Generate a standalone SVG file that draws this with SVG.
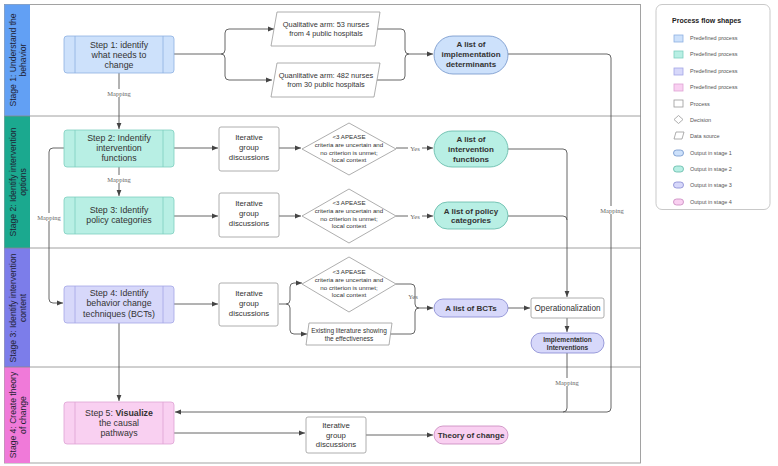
<svg xmlns="http://www.w3.org/2000/svg" width="778" height="466" viewBox="0 0 778 466">
<defs>
<marker id="ah" viewBox="0 0 6 6" refX="6" refY="3" markerWidth="6" markerHeight="6" markerUnits="userSpaceOnUse" orient="auto">
<path d="M0,0.6 L6,3 L0,5.4 z" fill="#444"/>
</marker>
<style>
text{font-family:"Liberation Sans",Arial,sans-serif;fill:#333;text-anchor:middle}
.hd{font-size:8.6px;fill:#1f2233}
.st{font-size:8.8px}
.it{font-size:7.8px}
.pa{font-size:7.4px}
.dt{font-size:6.2px}
.ot{font-size:8px;font-weight:bold}
.mp{font-family:"Liberation Serif",serif;font-size:6.5px;fill:#666}
.lg{font-size:5.5px;text-anchor:start;fill:#555}
.lt{font-size:7px;font-weight:bold;text-anchor:start;fill:#222}
.proc{fill:#fff;stroke:#999;stroke-width:0.8}
.edge{fill:none;stroke:#555;stroke-width:0.9}
.div{stroke:#888;stroke-width:0.8}
.s1{fill:#cde1fb;stroke:#8db0e2;stroke-width:0.8}
.s2{fill:#b8efe4;stroke:#7dcfbf;stroke-width:0.8}
.s3{fill:#d7d8fa;stroke:#a3a6e6;stroke-width:0.8}
.s4{fill:#f9d0f1;stroke:#dea2d4;stroke-width:0.8}
.o1{fill:#cde1fb;stroke:#6f92c9;stroke-width:0.8}
.o2{fill:#b8efe4;stroke:#5fb7a6;stroke-width:0.8}
.o3{fill:#d7d8fa;stroke:#8486d0;stroke-width:0.8}
.o4{fill:#f9d0f1;stroke:#c886bd;stroke-width:0.8}
.inl{stroke-width:0.8}
</style>
</defs>
<rect width="778" height="466" fill="#fff"/>

<!-- frame and swimlanes -->
<g id="lanes">
<rect x="4.5" y="4.5" width="636" height="458.5" fill="#fff" stroke="#999" stroke-width="0.9"/>
<rect x="4.5" y="4.5" width="25.5" height="111.5" fill="#62a0f4"/>
<rect x="4.5" y="116" width="25.5" height="132" fill="#1ba98f"/>
<rect x="4.5" y="248" width="25.5" height="119" fill="#7c7dea"/>
<rect x="4.5" y="367" width="25.5" height="96" fill="#f07ad9"/>
<line class="div" x1="4.5" y1="116" x2="640.5" y2="116"/>
<line class="div" x1="4.5" y1="248" x2="640.5" y2="248"/>
<line class="div" x1="4.5" y1="367" x2="640.5" y2="367"/>
<text class="hd" transform="translate(17,60) rotate(-90)"><tspan x="0" y="-1">Stage 1: Understand the</tspan><tspan x="0" y="8.5">behavior</tspan></text>
<text class="hd" transform="translate(17,182) rotate(-90)"><tspan x="0" y="-1">Stage 2: Identify intervention</tspan><tspan x="0" y="8.5">options</tspan></text>
<text class="hd" transform="translate(17,308) rotate(-90)"><tspan x="0" y="-1">Stage 3: Identify intervention</tspan><tspan x="0" y="8.5">content</tspan></text>
<text class="hd" transform="translate(17,415) rotate(-90)"><tspan x="0" y="-1">Stage 4: Create theory</tspan><tspan x="0" y="8.5">of change</tspan></text>
</g>

<!-- connectors -->
<g id="connectors">
<path class="edge" d="M174,54 H221 Q225,54 225,50 V33 Q225,29 229,29 H274" marker-end="url(#ah)"/>
<path class="edge" d="M221,54 Q225,54 225,58 V76 Q225,80 229,80 H272" marker-end="url(#ah)"/>
<path class="edge" d="M377,29 H401 Q405,29 405,33 V50 Q405,54 409,54 H433" marker-end="url(#ah)"/>
<path class="edge" d="M373,80 H401 Q405,80 405,76 V58 Q405,54 409,54"/>
<path class="edge" d="M508,54 H607 Q611,54 611,58 V408 Q611,412 607,412 H175" marker-end="url(#ah)"/>
<path class="edge" d="M567,353 V408 Q567,412 563,412"/>
<path class="edge" d="M119,73 V129" marker-end="url(#ah)"/>
<path class="edge" d="M119,167 V196" marker-end="url(#ah)"/>
<path class="edge" d="M64,148 H53 Q49,148 49,152 V299 Q49,303 53,303 H63" marker-end="url(#ah)"/>
<path class="edge" d="M174,148 H218" marker-end="url(#ah)"/>
<path class="edge" d="M279,148 H301" marker-end="url(#ah)"/>
<path class="edge" d="M396,148 H433" marker-end="url(#ah)"/>
<path class="edge" d="M508,149 H563 Q567,149 567,153 V297" marker-end="url(#ah)"/>
<path class="edge" d="M508,216 H563 Q567,216 567,220"/>
<path class="edge" d="M174,216 H218" marker-end="url(#ah)"/>
<path class="edge" d="M279,216 H301" marker-end="url(#ah)"/>
<path class="edge" d="M396,216 H433" marker-end="url(#ah)"/>
<path class="edge" d="M174,304 H218" marker-end="url(#ah)"/>
<path class="edge" d="M279,304 H286 Q290,304 290,300 V287 Q290,283 294,283 H302" marker-end="url(#ah)"/>
<path class="edge" d="M286,304 Q290,304 290,308 V330 Q290,334 294,334 H307" marker-end="url(#ah)"/>
<path class="edge" d="M396,284 H411 Q415,284 415,288 V304 Q415,308 419,308 H433" marker-end="url(#ah)"/>
<path class="edge" d="M390,334 H411 Q415,334 415,330 V312 Q415,308 419,308"/>
<path class="edge" d="M508,308 H530" marker-end="url(#ah)"/>
<path class="edge" d="M567,318 V332" marker-end="url(#ah)"/>
<path class="edge" d="M119,323 V401" marker-end="url(#ah)"/>
<path class="edge" d="M174,433 H305" marker-end="url(#ah)"/>
<path class="edge" d="M366,435 H433" marker-end="url(#ah)"/>
<rect x="106" y="89" width="26" height="8" fill="#fff"/>
<text class="mp" x="119" y="96">Mapping</text>
<rect x="106" y="175" width="26" height="8" fill="#fff"/>
<text class="mp" x="119" y="182">Mapping</text>
<rect x="36" y="213" width="26" height="8" fill="#fff"/>
<text class="mp" x="49" y="220">Mapping</text>
<rect x="599" y="206" width="26" height="8" fill="#fff"/>
<text class="mp" x="612" y="213">Mapping</text>
<rect x="554" y="378" width="26" height="8" fill="#fff"/>
<text class="mp" x="567" y="385">Mapping</text>
<rect x="408" y="144" width="14" height="8" fill="#fff"/>
<text class="mp" x="415" y="151">Yes</text>
<rect x="408" y="212" width="14" height="8" fill="#fff"/>
<text class="mp" x="415" y="219">Yes</text>
<text class="mp" x="413" y="299">Yes</text>
</g>

<!-- Stage 1 -->
<g id="step1">
<rect class="s1" x="64" y="36" width="110" height="37" rx="3"/>
<line class="s1 inl" x1="75" y1="36" x2="75" y2="73"/><line class="s1 inl" x1="163" y1="36" x2="163" y2="73"/>
<text class="st" x="119"><tspan x="119" y="48">Step 1: identify</tspan><tspan x="119" y="58">what needs to</tspan><tspan x="119" y="68">change</tspan></text>
</g>
<g id="qual">
<polygon class="proc" points="277,12 380,12 375,46 271,46"/>
<text class="pa"><tspan x="326" y="27">Qualitative arm: 53 nurses</tspan><tspan x="326" y="36">from 4 public hospitals</tspan></text>
</g>
<g id="quant">
<polygon class="proc" points="277,63 380,63 374,97 271,97"/>
<text class="pa"><tspan x="326" y="78">Quanlitative arm: 482 nurses</tspan><tspan x="326" y="87">from 30 public hospitals</tspan></text>
</g>
<g id="out1">
<rect class="o1" x="434" y="36" width="74" height="38" rx="19"/>
<text class="ot"><tspan x="471" y="47">A list of</tspan><tspan x="471" y="57">implementation</tspan><tspan x="471" y="67">determinants</tspan></text>
</g>

<!-- Stage 2 -->
<g id="step2">
<rect class="s2" x="64" y="130" width="110" height="37" rx="3"/>
<line class="s2 inl" x1="75" y1="130" x2="75" y2="167"/><line class="s2 inl" x1="163" y1="130" x2="163" y2="167"/>
<text class="st"><tspan x="119" y="141">Step 2: Indentify</tspan><tspan x="119" y="151">intervention</tspan><tspan x="119" y="161">functions</tspan></text>
</g>
<g id="iter2">
<rect class="proc" x="219" y="127" width="60" height="44" rx="2"/>
<text class="it"><tspan x="249" y="140">Iterative</tspan><tspan x="249" y="150">group</tspan><tspan x="249" y="160">discussions</tspan></text>
</g>
<g id="dec2">
<polygon class="proc" points="349,123 396,149 349,175 302,149"/>
<text class="dt"><tspan x="349" y="139">&lt;3 APEASE</tspan><tspan x="349" y="147">criteria are uncertain and</tspan><tspan x="349" y="155">no criterion is unmet;</tspan><tspan x="349" y="162">local context</tspan></text>
</g>
<g id="out2a">
<rect class="o2" x="434" y="131" width="74" height="36" rx="18"/>
<text class="ot"><tspan x="471" y="142">A list of</tspan><tspan x="471" y="152">intervention</tspan><tspan x="471" y="162">functions</tspan></text>
</g>
<g id="step3">
<rect class="s2" x="64" y="197" width="110" height="37" rx="3"/>
<line class="s2 inl" x1="75" y1="197" x2="75" y2="234"/><line class="s2 inl" x1="163" y1="197" x2="163" y2="234"/>
<text class="st"><tspan x="119" y="213">Step 3: Identify</tspan><tspan x="119" y="223">policy categories</tspan></text>
</g>
<g id="iter3">
<rect class="proc" x="219" y="193" width="60" height="44" rx="2"/>
<text class="it"><tspan x="249" y="206">Iterative</tspan><tspan x="249" y="216">group</tspan><tspan x="249" y="226">discussions</tspan></text>
</g>
<g id="dec3">
<polygon class="proc" points="349,189 396,216 349,243 302,216"/>
<text class="dt"><tspan x="349" y="205">&lt;3 APEASE</tspan><tspan x="349" y="213">criteria are uncertain and</tspan><tspan x="349" y="221">no criterion is unmet;</tspan><tspan x="349" y="228">local context</tspan></text>
</g>
<g id="out2b">
<rect class="o2" x="434" y="202" width="74" height="27" rx="13.5"/>
<text class="ot"><tspan x="471" y="214">A list of policy</tspan><tspan x="471" y="223">categories</tspan></text>
</g>

<!-- Stage 3 -->
<g id="step4">
<rect class="s3" x="64" y="286" width="110" height="37" rx="3"/>
<line class="s3 inl" x1="75" y1="286" x2="75" y2="323"/><line class="s3 inl" x1="163" y1="286" x2="163" y2="323"/>
<text class="st"><tspan x="119" y="296">Step 4: Identify</tspan><tspan x="119" y="306">behavior change</tspan><tspan x="119" y="317">techniques (BCTs)</tspan></text>
</g>
<g id="iter4">
<rect class="proc" x="219" y="283" width="59" height="43" rx="2"/>
<text class="it"><tspan x="249" y="296">Iterative</tspan><tspan x="249" y="306">group</tspan><tspan x="249" y="316">discussions</tspan></text>
</g>
<g id="dec4">
<polygon class="proc" points="349,257 396,284 349,312 302,284"/>
<text class="dt"><tspan x="349" y="274">&lt;3 APEASE</tspan><tspan x="349" y="282">criteria are uncertain and</tspan><tspan x="349" y="290">no criterion is unmet;</tspan><tspan x="349" y="297">local context</tspan></text>
</g>
<g id="lit">
<polygon class="proc" points="309,323 392,323 389,345 306,345"/>
<text class="dt" style="font-size:6.5px"><tspan x="349" y="333">Existing literature showing</tspan><tspan x="349" y="341">the effectiveness</tspan></text>
</g>
<g id="out3">
<rect class="o3" x="434" y="299" width="74" height="18" rx="9"/>
<text class="ot" x="471" y="311">A list of BCTs</text>
</g>
<g id="oper">
<rect class="proc" x="531" y="298" width="73" height="20" rx="2"/>
<text class="st" x="567.5" y="311" style="font-size:8.2px">Operationalization</text>
</g>
<g id="impl">
<rect class="o3" x="531" y="333" width="73" height="20" rx="10"/>
<text class="ot" style="font-size:6.6px"><tspan x="567.5" y="341.5">Implementation</tspan><tspan x="567.5" y="350">Interventions</tspan></text>
</g>

<!-- Stage 4 -->
<g id="step5">
<rect class="s4" x="64" y="402" width="110" height="42" rx="3"/>
<line class="s4 inl" x1="75" y1="402" x2="75" y2="444"/><line class="s4 inl" x1="163" y1="402" x2="163" y2="444"/>
<text class="st"><tspan x="119" y="416">Step 5: <tspan font-weight="bold">Visualize</tspan></tspan><tspan x="119" y="426">the causal</tspan><tspan x="119" y="436">pathways</tspan></text>
</g>
<g id="iter5">
<rect class="proc" x="306" y="417" width="60" height="36" rx="2"/>
<text class="it"><tspan x="336" y="428">Iterative</tspan><tspan x="336" y="437.5">group</tspan><tspan x="336" y="447">discussions</tspan></text>
</g>
<g id="toc">
<rect class="o4" x="434" y="426" width="74" height="18" rx="9"/>
<text class="ot" x="471" y="438">Theory of change</text>
</g>

<!-- legend -->
<g id="legend">
<rect x="656" y="4.5" width="114" height="205" rx="6" fill="#fff" stroke="#bbb" stroke-width="0.8"/>
<text class="lt" x="672" y="23">Process flow shapes</text>
<rect class="s1" x="674" y="35" width="9" height="7"/>
<text class="lg" x="690" y="40">Predefined process</text>
<rect class="s2" x="674" y="51" width="9" height="7"/>
<text class="lg" x="690" y="56">Predefined process</text>
<rect class="s3" x="674" y="68" width="9" height="7"/>
<text class="lg" x="690" y="73">Predefined process</text>
<rect class="s4" x="674" y="84" width="9" height="7"/>
<text class="lg" x="690" y="89">Predefined process</text>
<rect class="proc" x="674" y="100" width="9" height="7"/>
<text class="lg" x="690" y="106">Process</text>
<polygon class="proc" points="678.5,115.5 683,119.5 678.5,123.5 674,119.5"/>
<text class="lg" x="690" y="122">Decision</text>
<polygon class="proc" points="676,132 684,132 682,139 674,139"/>
<text class="lg" x="690" y="138">Data source</text>
<rect class="o1" x="673.5" y="150" width="10" height="6" rx="3"/>
<text class="lg" x="690" y="155">Output in stage 1</text>
<rect class="o2" x="673.5" y="166" width="10" height="6" rx="3"/>
<text class="lg" x="690" y="171">Output in stage 2</text>
<rect class="o3" x="673.5" y="182" width="10" height="6" rx="3"/>
<text class="lg" x="690" y="187">Output in stage 3</text>
<rect class="o4" x="673.5" y="199" width="10" height="6" rx="3"/>
<text class="lg" x="690" y="204">Output in stage 4</text>
</g>
</svg>
